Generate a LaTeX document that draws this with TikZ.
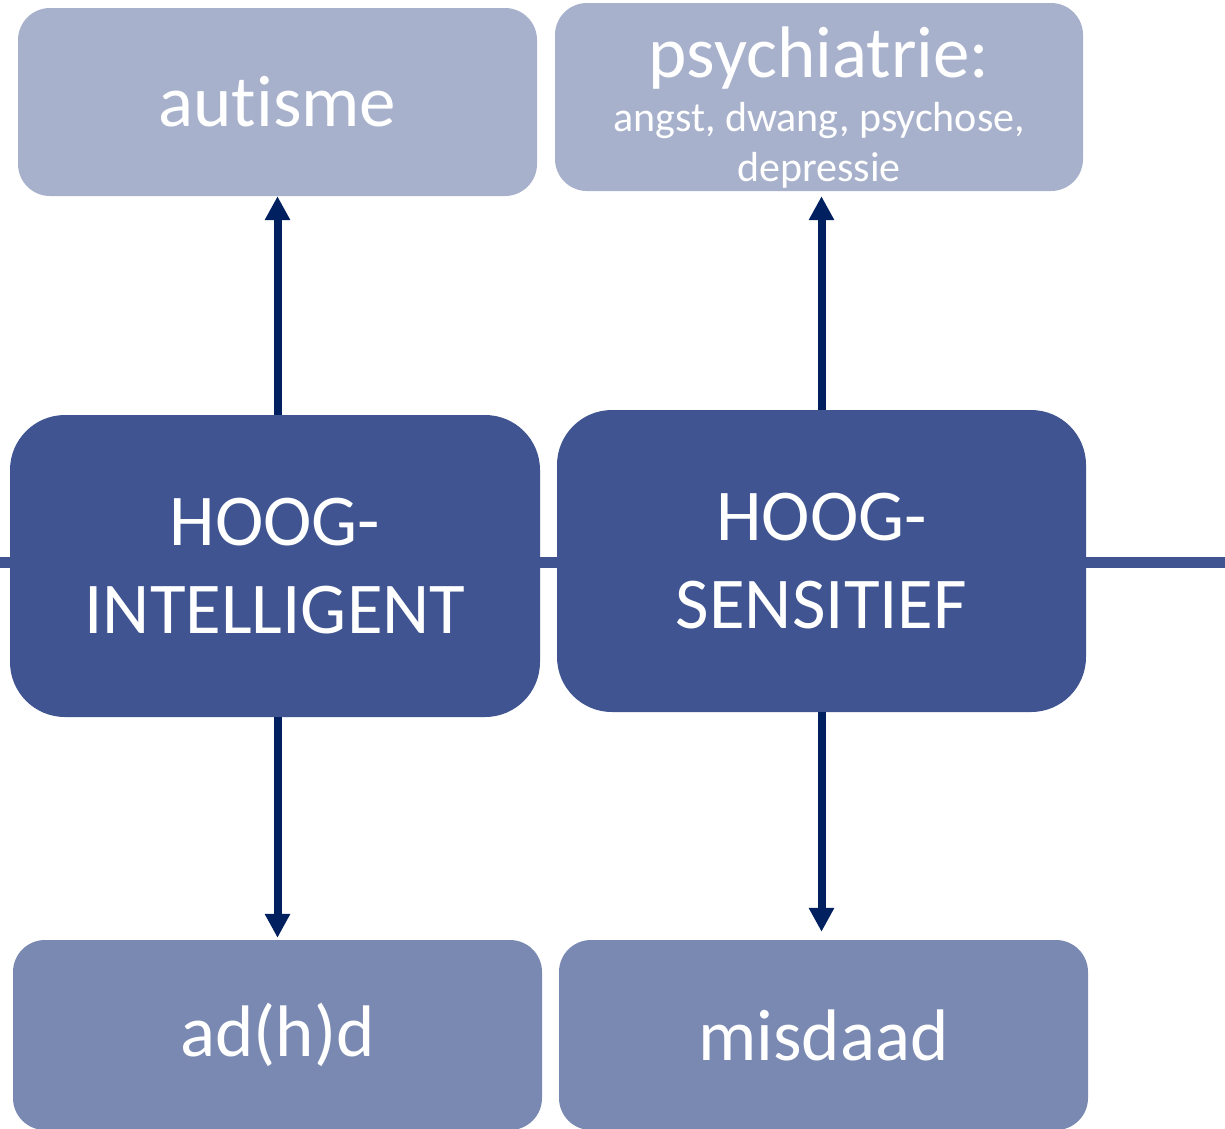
\documentclass[tikz,border=0pt]{standalone}
\usepackage{fontspec}
\setmainfont{Carlito}[Ligatures=NoCommon]
\usetikzlibrary{arrows.meta,calc}
\definecolor{boxlight}{HTML}{A8B1CC}
\definecolor{boxdark}{HTML}{3F5490}
\definecolor{boxmid}{HTML}{7A89B2}
\definecolor{arrowblue}{HTML}{002060}
\begin{document}
\begin{tikzpicture}[x=1pt,y=-1pt,
  card/.style={rectangle, rounded corners=#1, inner sep=0pt, text=white,
    align=center, font=\fontsize{73}{88}\selectfont},
  topbox/.style={card=32pt, fill=boxlight, minimum width=519pt, minimum height=188pt},
  midbox/.style={card=55pt, fill=boxdark, minimum width=530pt, minimum height=302pt},
  lowbox/.style={card=32pt, fill=boxmid, minimum width=529pt, minimum height=190pt},
  big/.style={text=white, inner sep=0pt, anchor=base, font=\fontsize{73}{88}\selectfont},
  small/.style={text=white, inner sep=0pt, anchor=base, font=\fontsize{42}{50}\selectfont},
  link/.style={draw=arrowblue, line width=8pt, -{Triangle[width=24pt,length=24pt]}},
  spine/.style={draw=boxdark, line width=11pt}]

\clip (0,0) rectangle (1225,1128);
\fill[white] (0,0) rectangle (1225,1128);

% horizontal axis running behind the two central boxes
\coordinate (axisL) at (0,562);
\coordinate (axisR) at (1225,562);
\draw[spine] (axisL) -- (axisR);

% top row
\node[topbox] (aut) at (277.5,102) {autisme};
\node[topbox, minimum width=528pt] (psy) at (819,97) {};
\node[big]   (psyA) at (819,77)  {psychiatrie:};
\node[small] (psyB) at (819,131) {angst, dwang, psychose,};
\node[small] (psyC) at (819,181) {depressie};

% middle row
\node[midbox] (hi) at (275,566) {HOOG-\\INTELLIGENT};
\node[midbox, minimum width=529pt] (hs) at (821.5,561) {HOOG-\\SENSITIEF};

% bottom row
\node[lowbox] (adhd) at (277.5,1035) {\raisebox{-3pt}{ad(h)d}};
\node[lowbox] (mis) at (823.5,1035) {misdaad};

% connectors
\draw[link] (aut.south |- hi.north) -- (aut.south);
\draw[link, shorten >=5pt] (hs.north) -- (hs.north |- psy.south);
\draw[link, shorten >=2pt] (adhd.north |- hi.south) -- (adhd.north);
\draw[link, shorten >=8pt] (hs.south) -- (hs.south |- mis.north);
\end{tikzpicture}
\end{document}
